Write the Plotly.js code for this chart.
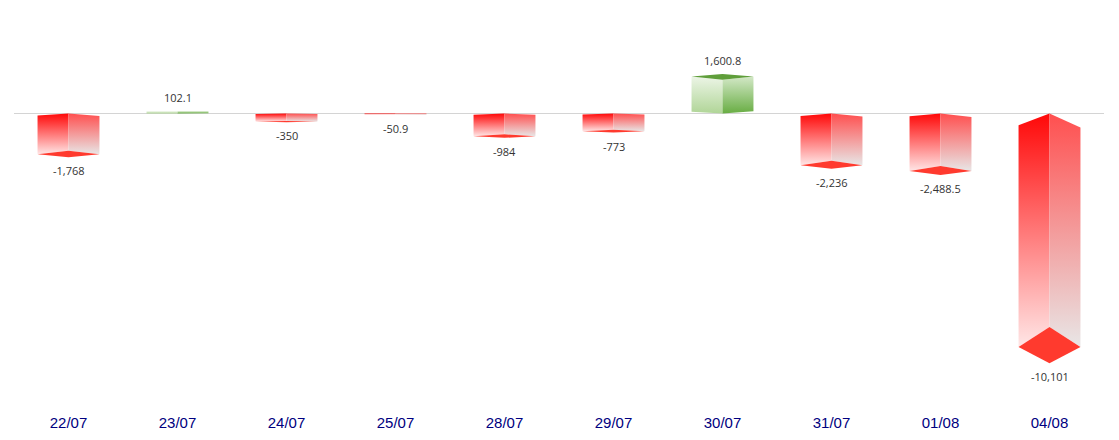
<!DOCTYPE html>
<html>
<head>
<meta charset="utf-8">
<script src="https://cdn.plot.ly/plotly-3.0.1.min.js"></script>
<style>html,body{margin:0;padding:0;background:#fff;}#chart{width:1119px;height:440px;}</style>
</head>
<body>
<div id="chart"></div>
<script>
// ---- data ----
const categories = ["22/07","23/07","24/07","25/07","28/07","29/07","30/07","31/07","01/08","04/08"];
const values = [-1768, 102.1, -350, -50.9, -984, -773, 1600.8, -2236, -2488.5, -10101];
const labels = values.map(v => v.toLocaleString('en-US', {maximumFractionDigits: 1}));

// ---- style (pseudo-3D geometry factors, relative to the value) ----
const HALF = 0.284;      // half bar width in category units
const EDGE_L = 0.05, EDGE_R = 0.06;  // slope of the base edges
const NEAR = 0.914, FAR = 1.069;     // end-face diamond vertices

const neg = {
  left:  [[0,'#ffe6e6'],[1,'#ff0808']],
  right: [[0,'#e8e6e6'],[1,'#ff4f4f']],
  cap: '#ff3a2e'
};
const pos = {
  left:  [[0,'#b0d597'],[1,'#ecf5e6']],
  right: [[0,'#68ad43'],[1,'#d3e8c7']],
  cap: '#5f9e3a'
};

const traces = [];
const noLine = {width:0, color:'rgba(0,0,0,0)'};
values.forEach((v, i) => {
  const st = v < 0 ? neg : pos;
  const xl = i - HALF, xr = i + HALF;
  // left face
  traces.push({
    type:'scatter', mode:'lines', x:[xl, i, i, xl, xl], y:[EDGE_L*v, 0, NEAR*v, v, EDGE_L*v],
    fill:'toself', fillgradient:{type:'vertical', colorscale: st.left}, line:noLine, hoverinfo:'skip'
  });
  // right face
  traces.push({
    type:'scatter', mode:'lines', x:[i, xr, xr, i, i], y:[0, EDGE_R*v, v, NEAR*v, 0],
    fill:'toself', fillgradient:{type:'vertical', colorscale: st.right}, line:noLine, hoverinfo:'skip'
  });
  // end cap
  traces.push({
    type:'scatter', mode:'lines', x:[xl, i, xr, i, xl], y:[v, NEAR*v, v, FAR*v, v],
    fill:'toself', fillcolor: st.cap, line:noLine, hoverinfo:'skip'
  });
});

const annotations = values.map((v, i) => ({
  x: i, y: FAR*v, xref:'x', yref:'y', text: labels[i], showarrow:false,
  yanchor:'middle', yshift: v < 0 ? -13.5 : 13.5,
  font:{family:'"Open Sans", sans-serif', size:11, color:'#333333'}
}));

const layout = {
  width:1119, height:440,
  margin:{l:14, r:15, t:20, b:40},
  paper_bgcolor:'#ffffff', plot_bgcolor:'#ffffff',
  showlegend:false,
  xaxis:{
    range:[-0.5, 9.5], tickvals: categories.map((c,i)=>i), ticktext: categories,
    showgrid:false, zeroline:false, showline:false, ticks:'', fixedrange:true,
    ticklabelstandoff: 12,
    tickfont:{family:'"Liberation Sans", Arial, sans-serif', size:15, color:'#000080'}
  },
  yaxis:{
    range:[-12392, 4044], showgrid:false, showticklabels:false, ticks:'',
    zeroline:true, zerolinecolor:'#d4d4d4', zerolinewidth:1, showline:false, fixedrange:true
  },
  annotations: annotations
};

Plotly.newPlot('chart', traces, layout, {displayModeBar:false, staticPlot:true});
</script>
</body>
</html>
